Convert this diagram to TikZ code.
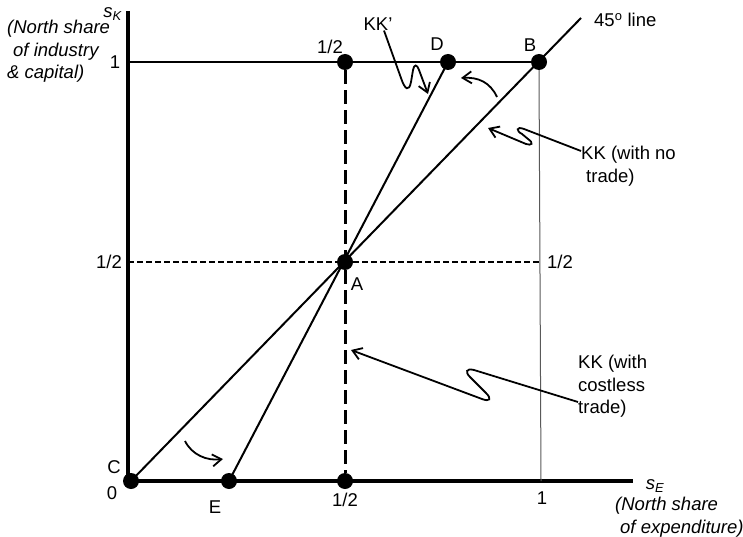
\documentclass[tikz,border=0pt]{standalone}
\usepackage{fontspec}
\setmainfont{Liberation Sans}
\usetikzlibrary{arrows.meta}
\begin{document}
\begin{tikzpicture}[x=1pt, y=-1pt, font=\fontsize{18.5}{22.5}\selectfont,
  dot/.style={circle, fill, inner sep=0pt, minimum size=16pt},
  lbl/.style={inner sep=0pt},
  note/.style={inner sep=0pt, align=left, anchor=north west},
  slant/.style={font={\fontsize{18.5}{22.5}\selectfont\itshape}},
  zig/.style={-{Straight Barb[length=9pt, width=12pt]}, line width=1.8pt}]
  \useasboundingbox (0,0) rectangle (743,537);
  % axes
  \coordinate (ytop) at (128,11);
  \coordinate (xend) at (633,481);
  \coordinate (Y1) at (128,62);
  \coordinate (Yh) at (128,262);
  \coordinate (Xh) at (541,262);
  \coordinate (X1) at (541,481);
  \coordinate (L45) at (581,18);
  \draw[line width=4pt] (ytop) |- (xend);
  % points
  \node[dot] (C) at (131,481) {};
  \node[dot] (E) at (229,481) {};
  \node[dot] (H) at (345,481) {};
  \node[dot] (A) at (345,262) {};
  \node[dot] (T) at (345,62) {};
  \node[dot] (D) at (448,62) {};
  \node[dot] (B) at (539,62) {};
  % lines
  \draw[line width=1.3pt] (Y1) -- (B.center);
  \draw[line width=1pt, black!65] (B.south) -- (X1);
  \draw[line width=1.5pt, dash pattern=on 6pt off 3pt] (Yh) -- (Xh);
  \draw[line width=3pt, dash pattern=on 14pt off 6pt] (T) -- (H);
  \draw[line width=2pt] (C.center) -- (L45);
  \draw[line width=2pt] (E.center) -- (D.center);
  % labels
  \node[lbl, slant, anchor=east] (sK) at (122,14) {s\textsubscript{K}};
  \node[note, slant] (ylab) at (7,20) {(North share\\\hspace*{6pt}of industry\\\& capital)};
  \node[lbl] (y1) at (115,62) {1};
  \node[lbl] (yh) at (109,262) {1/2};
  \node[lbl] (zero) at (112,493) {0};
  \node[lbl] (lC) at (114,467) {C};
  \node[lbl] (lE) at (215,507) {E};
  \node[lbl] (xh) at (345,500) {1/2};
  \node[lbl] (x1) at (542,498) {1};
  \node[lbl, slant] (sE) at (655,486) {s\textsubscript{E}};
  \node[note, slant] (xlab) at (615,497) {(North share\\\hspace*{5pt}of expenditure)};
  \node[lbl] (th) at (330,47) {1/2};
  \node[lbl] (lD) at (437,44) {D};
  \node[lbl] (lB) at (530,45) {B};
  \node[lbl] (lA) at (357,284) {A};
  \node[lbl, anchor=west] (rh) at (547,262) {1/2};
  \node[lbl, anchor=west] (l45) at (594,20) {45\textsuperscript{o} line};
  \node[lbl] (kkp) at (378,24) {KK’};
  \node[note] (kk1) at (581,146) {KK (with no\\\hspace*{5pt}trade)};
  \node[note] (kk2) at (578,355) {KK (with\\costless\\trade)};
  % arrows
  \coordinate (d1) at (497,97);
  \coordinate (d2) at (461,78);
  \coordinate (e1) at (185,441);
  \coordinate (e2) at (223,459);
  \draw[zig] ([xshift=6pt]kkp.south) -- (401,78) .. controls (405,90) and (409,92) .. (411,82)
    -- (413,70) .. controls (414,64) and (417,64) .. (419,70) -- (428,94);
  \draw[zig] (d1) .. controls (490,82) and (478,77) .. (d2);
  \draw[zig] (e1) .. controls (192,455) and (207,461) .. (e2);
  \draw[zig] ([yshift=-5pt]kk1.north west) -- (524,129) .. controls (516,126) and (516,131) .. (522,134)
    -- (528,139) .. controls (534,143) and (532,146) .. (526,144) -- (488,128);
  \draw[zig] ([yshift=-47pt]kk2.north west) -- (474,370) .. controls (466,368) and (465,372) .. (470,377)
    -- (486,393) .. controls (492,399) and (490,402) .. (482,399) -- (351,350);
\end{tikzpicture}
\end{document}
